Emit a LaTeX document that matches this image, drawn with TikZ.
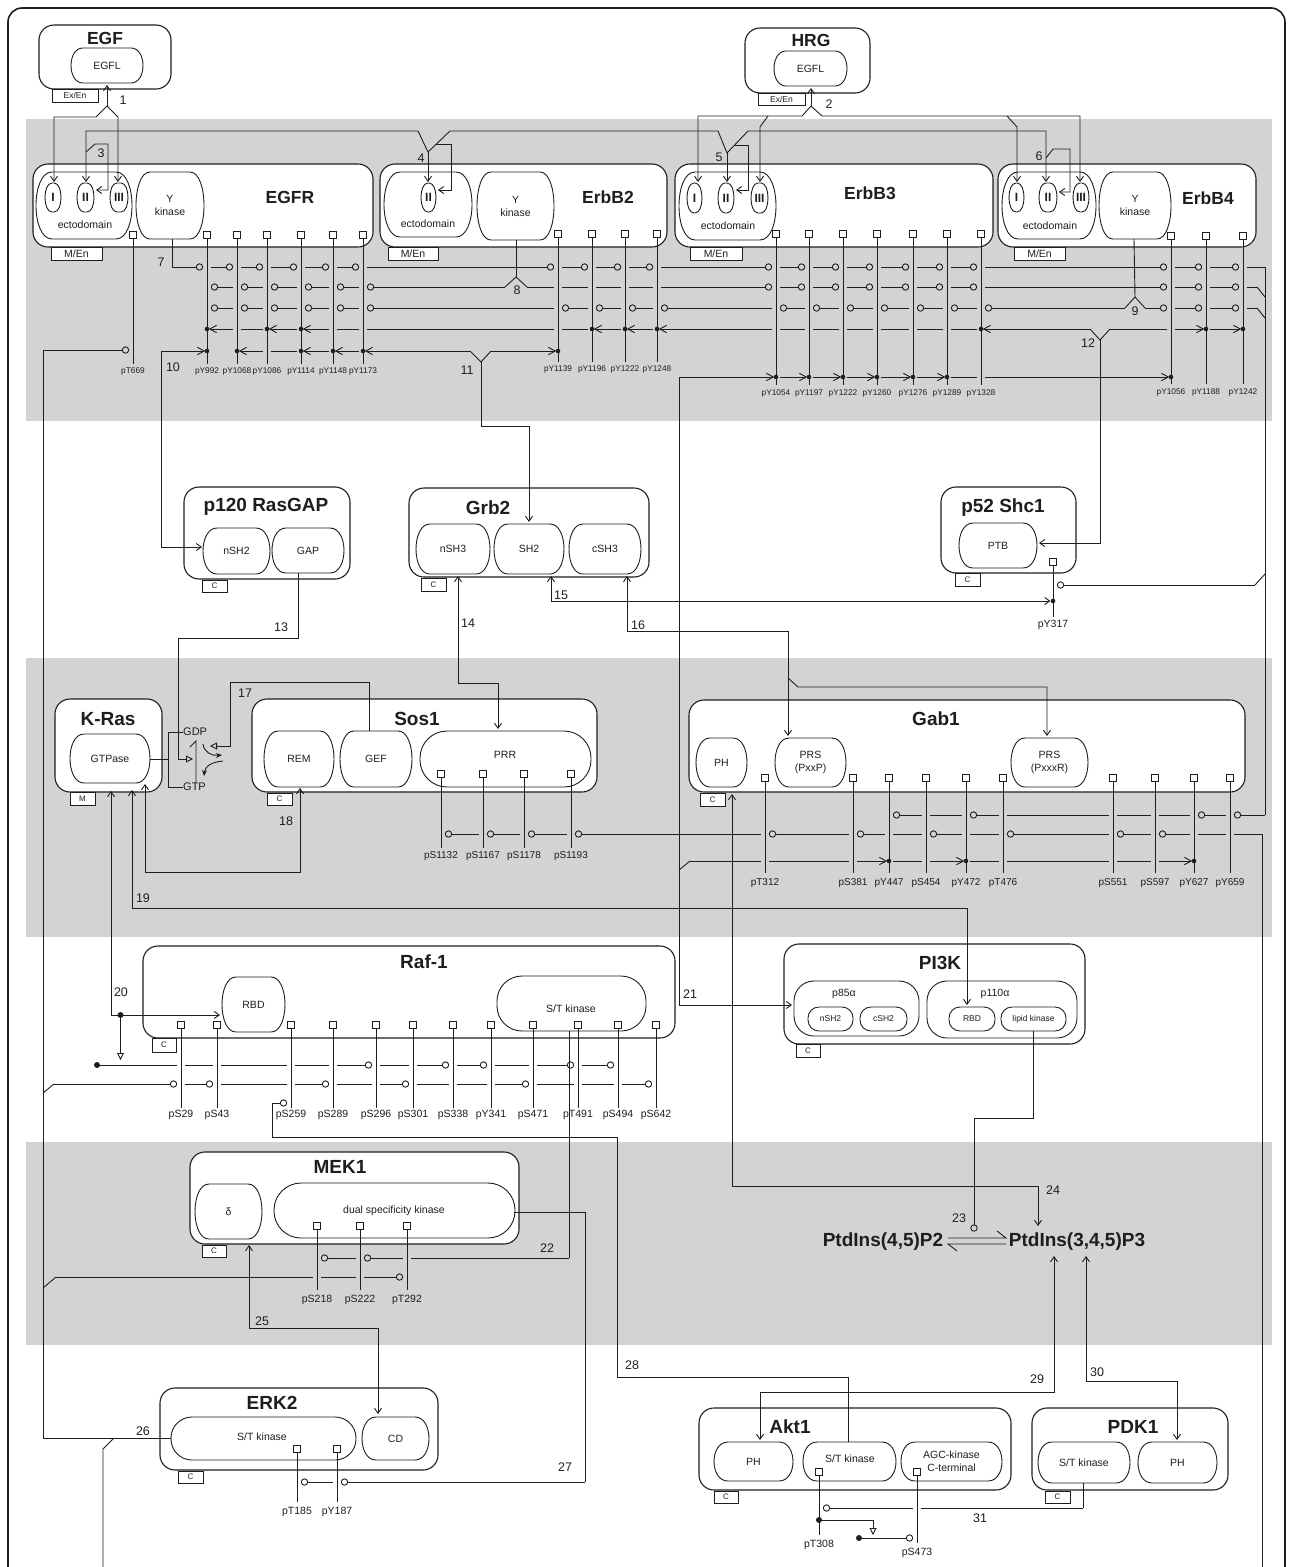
\documentclass[tikz,border=0pt]{standalone}
\usepackage{fontspec}
\setmainfont{Liberation Sans}
\usetikzlibrary{arrows.meta}
\definecolor{band}{RGB}{210,211,213}
\definecolor{ink}{RGB}{30,30,30}
\tikzset{
  ln/.style={line width=0.9pt},
  protbox/.style={draw, fill=white, line width=1.1pt, rounded corners=15pt, inner sep=0pt},
  dombox/.style={draw, fill=white, line width=0.9pt},
  domtxt/.style={inner sep=0pt, align=center, font=\fontsize{10.5}{13}\selectfont},
  tagb/.style={draw, fill=white, line width=0.8pt, inner sep=0pt, font=\fontsize{8}{9}\selectfont},
  ttl/.style={inner sep=0pt, font=\fontsize{17.5}{20}\selectfont\bfseries},
  ttlb/.style={inner sep=0pt, font=\fontsize{19}{22}\selectfont\bfseries},
  ptd/.style={inner sep=0pt, font=\fontsize{19}{22}\selectfont\bfseries},
  nlab/.style={inner sep=0pt, font=\fontsize{12.5}{14}\selectfont},
  sitelab/.style={font=\fontsize{8.3}{9}\selectfont},
  sq/.style={draw, fill=white, line width=0.8pt},
  tri/.style={-{Triangle[open,length=7pt,width=7pt]}},
}
\def\nonemac{none}
\def\labgap{3}
\newcommand\romfont{\fontsize{12}{13}\selectfont\bfseries}
\newcommand\smallf{\fontsize{8.5}{10}\selectfont}
% crossing handlers
\newcommand\zzLG[1]{\pgfmathsetmacro\segB{#1-4}}
\newcommand\zzLCR[1]{\pgfmathsetmacro\segB{#1-4}}
\newcommand\zzLDR[1]{\pgfmathsetmacro\segB{#1-4}\fill (#1,\RowY) circle (2.3);}
\newcommand\zzLCL[1]{\pgfmathsetmacro\segB{#1-10.7}\draw[ln] (#1-7.5,\RowY) circle (3.2);}
\newcommand\zzLDL[1]{\pgfmathsetmacro\segB{#1-2.6}\fill (#1,\RowY) circle (2.3);\draw[ln] (#1-9.6,\RowY-3.6) -- (#1-2.6,\RowY) -- (#1-9.6,\RowY+3.6);}
\newcommand\zzRG[1]{\pgfmathsetmacro\zztmp{#1+4}\xdef\segA{\zztmp}}
\newcommand\zzRCL[1]{\zzRG{#1}}
\newcommand\zzRDL[1]{\zzRG{#1}}
\newcommand\zzRCR[1]{\pgfmathsetmacro\zztmp{#1+10.7}\xdef\segA{\zztmp}\draw[ln] (#1+7.5,\RowY) circle (3.2);}
\newcommand\zzRDR[1]{\pgfmathsetmacro\zztmp{#1+2.6}\xdef\segA{\zztmp}\draw[ln] (#1+9.6,\RowY-3.6) -- (#1+2.6,\RowY) -- (#1+9.6,\RowY+3.6);}
\newcommand\hrow[4]{%
  \xdef\RowY{#1}\xdef\segA{#2}%
  \foreach \cx/\ct in {#3}{%
    \csname zzL\ct\endcsname{\cx}%
    \ifx\segA\nonemac\else\draw[ln] (\segA,\RowY) -- (\segB,\RowY);\fi
    \csname zzR\ct\endcsname{\cx}%
  }%
  \xdef\zzend{#4}%
  \ifx\zzend\nonemac\else\draw[ln] (\segA,\RowY) -- (\zzend,\RowY);\fi
}
\newcommand\site[4]{%
  \draw[ln] (#1,#2) -- (#1,#3);
  \draw[sq] (#1-3.2,#2-3.2) rectangle (#1+3.2,#2+3.2);
  \node[sitelab, anchor=north, inner sep=0pt] (site#1x#2) at (#1,#3+\labgap) {#4};}
\newcommand\prot[5]{\node[protbox, minimum width={#4-#2}, minimum height={#5-#3}] (#1) at ({(#2+#4)/2},{(#3+#5)/2}) {};}
\newcommand\tagbox[6]{\node[tagb, minimum width={#4-#2}, minimum height={#5-#3}] (#1) at ({(#2+#4)/2},{(#3+#5)/2}) {#6};}
\newcommand\dom[7][12]{%
  \draw[dombox] (#3+#1,#4) -- (#5-#1,#4) .. controls (#5+#1/3,#4) and (#5+#1/3,#6) .. (#5-#1,#6) -- (#3+#1,#6) .. controls (#3-#1/3,#6) and (#3-#1/3,#4) .. (#3+#1,#4) -- cycle;
  \node[domtxt, minimum width={#5-#3}, minimum height={#6-#4}] (#2) at ({(#3+#5)/2},{(#4+#6)/2}) {#7};}
\newcommand\sdom[7][20]{%
  \draw[dombox, rounded corners=#1pt] (#3,#4) rectangle (#5,#6);
  \node[domtxt, minimum width={#5-#3}, minimum height={#6-#4}] (#2) at ({(#3+#5)/2},{(#4+#6)/2}) {#7};}
\newcommand\MEn{\fontsize{10.5}{12}\selectfont M/En}
\newcommand\ExEn{\fontsize{8.5}{9}\selectfont Ex/En}

\begin{document}
\begin{tikzpicture}[x=1pt,y=-1pt,color=ink,>={Straight Barb[length=5pt,width=7pt]}]
\useasboundingbox (0,0) rectangle (1292,1567);
\clip (0,0) rectangle (1292,1567);
\fill[white] (0,0) rectangle (1292,1567);
\fill[band] (26,119) rectangle (1272,421);
\fill[band] (26,658) rectangle (1272,937);
\fill[band] (26,1142) rectangle (1272,1345);
\draw[line width=1.6pt, rounded corners=14pt] (8,8) rectangle (1285,1640);

% ================= ligands
\prot{EGF}{39}{25}{171}{89}
\node[ttl] (EGFt) at (105,38) {EGF};
\dom[12]{EGFLa}{71}{48}{143}{83}{EGFL}
\tagbox{EGFtag}{52}{89}{98}{102}{\ExEn}
\prot{HRG}{745}{28}{870}{93}
\node[ttl] (HRGt) at (811,40) {HRG};
\dom[12]{EGFLb}{774}{51}{847}{86}{EGFL}
\tagbox{HRGtag}{758}{93}{805}{105}{\ExEn}

% ================= receptors
\prot{EGFR}{33}{164}{373}{247}
\node[ttl] (EGFRt) at (290,197) {EGFR};
\dom[16]{EGFRecto}{36}{172}{132}{239}{}
\node[domtxt] (EGFRectot) at (85,225) {ectodomain};
\dom[7]{EGFRi}{45}{183}{61}{212}{\romfont I}
\dom[7]{EGFRii}{77}{183}{94}{212}{\romfont II}
\dom[7]{EGFRiii}{110}{183}{128}{212}{\romfont III}
\dom[14]{EGFRk}{136}{172}{204}{239}{Y\\kinase}
\tagbox{EGFRtag}{51}{247}{102}{260}{\MEn}

\prot{ErbBb}{380}{164}{667}{247}
\node[ttl] (ErbBbt) at (608,197) {ErbB2};
\dom[16]{ErbBbecto}{384}{172}{472}{237}{}
\node[domtxt] (ErbBbectot) at (428,224) {ectodomain};
\dom[7]{ErbBbii}{421}{183}{436}{212}{\romfont II}
\dom[14]{ErbBbk}{477}{172}{554}{240}{Y\\kinase}
\tagbox{ErbBbtag}{388}{247}{438}{260}{\MEn}

\prot{ErbBc}{675}{164}{993}{247}
\node[ttl] (ErbBct) at (870,193) {ErbB3};
\dom[16]{ErbBcecto}{679}{172}{776}{240}{}
\node[domtxt] (ErbBcectot) at (728,226) {ectodomain};
\dom[7]{ErbBci}{687}{183}{702}{213}{\romfont I}
\dom[7]{ErbBcii}{718}{183}{734}{213}{\romfont II}
\dom[7]{ErbBciii}{751}{183}{768}{213}{\romfont III}
\tagbox{ErbBctag}{690}{247}{742}{260}{\MEn}

\prot{ErbBd}{998}{164}{1256}{247}
\node[ttl] (ErbBdt) at (1208,198) {ErbB4};
\dom[16]{ErbBdecto}{1002}{172}{1096}{239}{}
\node[domtxt] (ErbBdectot) at (1050,226) {ectodomain};
\dom[7]{ErbBdi}{1009}{183}{1024}{212}{\romfont I}
\dom[7]{ErbBdii}{1039}{183}{1057}{212}{\romfont II}
\dom[7]{ErbBdiii}{1073}{183}{1089}{212}{\romfont III}
\dom[14]{ErbBdk}{1099}{172}{1171}{239}{Y\\kinase}
\tagbox{ErbBdtag}{1014}{247}{1065}{260}{\MEn}

% ================= adaptors
\prot{RasGAP}{184}{487}{350}{579}
\node[ttlb] (RasGAPt) at (266,507) {p120 RasGAP};
\dom[14]{nSHa}{203}{528}{270}{574}{nSH2}
\dom[14]{GAP}{272}{528}{344}{573}{GAP}
\tagbox{RasGAPtag}{202}{580}{227}{592}{C}

\prot{Grb}{409}{488}{649}{577}
\node[ttlb] (Grbt) at (488,508) {Grb2};
\dom[14]{nSHt}{416}{524}{490}{574}{nSH3}
\dom[14]{SHt}{494}{524}{564}{574}{SH2}
\dom[14]{cSHt}{569}{524}{641}{574}{cSH3}
\tagbox{Grbtag}{421}{578}{446}{591}{C}

\prot{Shc}{941}{487}{1076}{573}
\node[ttlb] (Shct) at (1003,508) {p52 Shc1};
\dom[14]{PTB}{959}{523}{1037}{568}{PTB}
\tagbox{Shctag}{955}{573}{980}{586}{C}

\prot{KRas}{55}{699}{162}{792}
\node[ttlb] (KRast) at (108,719) {K-Ras};
\dom[14]{GTPase}{70}{734}{150}{783}{GTPase}
\tagbox{KRastag}{70}{792}{95}{805}{M}

\prot{Sos}{252}{699}{597}{792}
\node[ttlb] (Sost) at (417,719) {Sos1};
\dom[14]{REM}{264}{731}{334}{787}{REM}
\dom[14]{GEF}{340}{731}{412}{787}{GEF}
\sdom[27]{PRR}{420}{731}{591}{787}{}
\node[domtxt] (PRRt) at (505,755) {PRR};
\tagbox{Sostag}{267}{793}{292}{805}{C}

\prot{Gab}{689}{700}{1245}{792}
\node[ttlb] (Gabt) at (936,719) {Gab1};
\dom[14]{PHa}{696}{738}{747}{787}{PH}
\dom[14]{PRSa}{775}{738}{846}{787}{PRS\\(PxxP)}
\dom[14]{PRSb}{1011}{738}{1088}{787}{PRS\\(PxxxR)}
\tagbox{Gabtag}{700}{793}{725}{806}{C}

\prot{Raf}{143}{946}{675}{1038}
\node[ttlb] (Raft) at (424,962) {Raf-1};
\dom[14]{RBDa}{222}{977}{285}{1032}{RBD}
\sdom[25]{RafK}{497}{976}{646}{1031}{}
\node[domtxt] (RafKt) at (571,1009) {S/T kinase};
\tagbox{Raftag}{152}{1038}{176}{1052}{C}

\prot{PIK}{784}{944}{1085}{1044}
\node[ttlb] (PIKt) at (940,963) {PI3K};
\sdom[20]{pEF}{794}{981}{919}{1036}{}
\node[domtxt] (pEFt) at (844,994) {p85α};
\sdom[11]{nSHb}{808}{1007}{853}{1031}{\smallf nSH2}
\sdom[11]{cSHb}{860}{1007}{907}{1031}{\smallf cSH2}
\sdom[20]{pOT}{927}{981}{1077}{1038}{}
\node[domtxt] (pOTt) at (995,994) {p110α};
\sdom[11]{RBDb}{949}{1007}{995}{1031}{\smallf RBD}
\sdom[11]{lipid}{1001}{1007}{1066}{1031}{\smallf lipid kinase}
\tagbox{PIKtag}{796}{1044}{820}{1057}{C}

\prot{MEK}{190}{1152}{519}{1244}
\node[ttlb] (MEKt) at (340,1167) {MEK1};
\dom[14]{delta}{195}{1184}{262}{1239}{δ}
\sdom[27]{dsk}{274}{1183}{515}{1238}{}
\node[domtxt] (dskt) at (394,1211) {dual specificity kinase};
\tagbox{MEKtag}{202}{1245}{226}{1257}{C}

\prot{ERK}{160}{1388}{438}{1470}
\node[ttlb] (ERKt) at (272,1403) {ERK2};
\sdom[21]{ERKk}{171}{1417}{356}{1460}{}
\node[domtxt] (ERKkt) at (262,1437) {S/T kinase};
\dom[14]{CD}{362}{1417}{429}{1460}{CD}
\tagbox{ERKtag}{178}{1471}{203}{1483}{C}

\prot{Akt}{699}{1408}{1011}{1490}
\node[ttlb] (Aktt) at (790,1427) {Akt1};
\dom[14]{PHb}{714}{1442}{793}{1481}{PH}
\dom[14]{AktK}{803}{1442}{896}{1481}{}
\node[domtxt] (AktKt) at (850,1459) {S/T kinase};
\dom[14]{AGC}{901}{1442}{1002}{1481}{AGC-kinase\\C-terminal}
\tagbox{Akttag}{714}{1491}{738}{1503}{C}

\prot{PDK}{1032}{1408}{1228}{1490}
\node[ttlb] (PDKt) at (1133,1427) {PDK1};
\dom[14]{PDKk}{1038}{1442}{1130}{1483}{S/T kinase}
\dom[14]{PHc}{1138}{1442}{1217}{1483}{PH}
\tagbox{PDKtag}{1045}{1491}{1070}{1503}{C}

\node[ptd] (PIPb) at (883,1242) {PtdIns(4,5)P2};
\node[ptd] (PIPc) at (1077,1242) {PtdIns(3,4,5)P3};

% ================= ligand binding / dimerisation
\draw[ln,->] (107,106) -- (107,85);
\draw[ln,->] (107,106) -- (96,117) -- (54,117) -- (54,182);
\draw[ln,->] (107,106) -- (118,117) -- (118,182);
\draw[ln,->] (811,106) -- (811,88);
\draw[ln,->] (811,106) -- (802,116) -- (698,116) -- (698,182);
\draw[ln,->] (768,116) -- (760,127) -- (760,182);
\draw[ln,->] (811,106) -- (822,116) -- (1080,116) -- (1080,182);
\draw[ln,->] (1007,116) -- (1017,127) -- (1017,182);
\draw[ln,<->] (86,182) -- (86,131) -- (418,131) -- (428,152) -- (450,131) -- (718,131) -- (727,153) -- (748,131) -- (1046,131) -- (1046,182);
\draw[ln,->] (428,152) -- (428,182);
\draw[ln,->] (727,153) -- (727,182);
\draw[ln,->] (86,152) -- (95,144) -- (108,144) -- (108,190) -- (96,190);
\draw[ln,->] (436,144) -- (451,144) -- (451,190) -- (438,190);
\draw[ln,->] (735,145) -- (748,145) -- (748,190) -- (736,190);
\draw[ln,->] (1046,158) -- (1053,149) -- (1070,149) -- (1070,192) -- (1059,192);

% ================= receptor rows
\draw[ln] (172,239) -- (172,267);
\hrow{267}{172}{207/CL,237/CL,267/CL,301/CL,333/CL,363/CL,558/CL,592/CL,625/CL,657/CL,776/CL,809/CL,843/CL,877/CL,913/CL,947/CL,981/CL,1171/CL,1206/CL,1243/CL}{1265}
\draw[ln] (1265,267) -- (1265,815);
\hrow{287}{none}{207/CR,237/CR,267/CR,301/CR,333/CR,363/CR}{505}
\draw[ln] (505,287) -- (516,277) -- (527,287);
\draw[ln] (516,240) -- (516,277);
\hrow{287}{527}{558/G,592/G,625/G,657/G,776/CL,809/CL,843/CL,877/CL,913/CL,947/CL,981/CL,1171/CL,1206/CL,1243/CL}{1257}
\draw[ln] (1257,287) -- (1265,297);
\hrow{308}{none}{207/CR,237/CR,267/CR,301/CR,333/CR,363/CR,558/CR,592/CR,625/CR,657/CR,776/CR,809/CR,843/CR,877/CR,913/CR,947/CR,981/CR}{1125}
\draw[ln] (1125,308) -- (1135,297) -- (1145,308);
\draw[ln] (1134,239) -- (1135,297);
\hrow{308}{1145}{1171/CL,1206/CL,1243/CL}{1257}
\draw[ln] (1257,308) -- (1265,318);
\hrow{329}{none}{207/DR,237/G,267/DR,301/DR,333/G,363/G,558/G,592/DR,625/DR,657/DR,776/G,809/G,843/G,877/G,913/G,947/G,981/DR}{1090}
\draw[ln] (1090,329) -- (1100,340) -- (1110,329);
\hrow{329}{1110}{1171/G,1206/DL,1243/DL}{none}
\hrow{351}{161}{207/DL}{none}
\hrow{351}{none}{237/DR,267/G,301/DR,333/DR,363/DR}{470}
\draw[ln] (470,351) -- (481,362) -- (491,351);
\hrow{351}{491}{558/DL}{none}
\hrow{377}{679}{776/DL,809/DL,843/DL,877/DL,913/DL,947/DL,981/G,1171/DL}{none}
\hrow{350}{43}{133/CL}{none}

% ================= adaptor connectors
\draw[ln,->] (161,351) -- (161,547) -- (202,547);
\draw[ln,->] (481,362) -- (481,426) -- (529,426) -- (529,522);
\draw[ln,->] (1100,340) -- (1100,543) -- (1039,543);
\draw[ln,tri] (298,573) -- (298,638) -- (178,638) -- (178,759) -- (193,759);
\draw[ln,<->] (458,576) -- (458,683) -- (498,683) -- (498,729);
\draw[ln,<->] (551,576) -- (551,601) -- (1050.4,601);
\fill (1053,601) circle (2.3);
\draw[ln,<->] (627,576) -- (627,631) -- (788,631) -- (788,736);
\draw[ln,->] (788,678) -- (798,687) -- (1047,687) -- (1047,736);
\hrow{585}{none}{1053/CR}{1255}
\draw[ln] (1255,585) -- (1265,574);

% ================= Ras cycle
\draw[ln] (150,759) -- (168,759);
\draw[ln] (183,732) -- (168,732) -- (168,787) -- (183,787);
\node[inner sep=0pt, anchor=west, font=\fontsize{11}{12}\selectfont] (GDP) at (183,732) {GDP};
\node[inner sep=0pt, anchor=west, font=\fontsize{11}{12}\selectfont] (GTP) at (183,787) {GTP};
\draw[ln] (190,747) -- (196,741) -- (196,783);
\draw[ln,-{Stealth[length=6pt,width=5pt]}] (203,744) .. controls (204,752) and (211,756) .. (222,755);
\draw[ln,-{Stealth[length=6pt,width=5pt]}] (223,761) .. controls (212,762) and (205,766) .. (204,776);
\draw[ln,tri] (369,731) -- (369,682) -- (230,682) -- (230,746) -- (210,746);
\draw[ln,<->] (145,784) -- (145,872) -- (300,872) -- (300,788);
\draw[ln,<->] (132,790) -- (132,908) -- (967,908) -- (967,1005);
\draw[ln,<->] (111,791) -- (111,1015) -- (220,1015);
\fill (120.5,1015) circle (3);
\draw[ln,tri] (120.5,1015) -- (120.5,1060);

% ================= Gab1 rows
\hrow{815}{none}{889/CR,926/G,966/CR,1003/G,1113/G,1155/G,1194/CR,1230/CR}{1265}
\hrow{834}{none}{441/CR,483/CR,524/CR,571/CR,765/CR,853/CR,889/G,926/CR,966/G,1003/CR,1113/CR,1155/CR,1194/G,1230/G}{1262}
\draw[ln] (1262,834) -- (1262,1580);
\hrow{861}{690}{765/G,853/G,889/DL,926/G,966/DL,1003/G,1113/G,1155/G,1194/DL}{none}
\draw[ln,->] (679,377) -- (679,1005) -- (792,1005);
\draw[ln] (679,870) -- (690,861);
\draw[ln,<->] (732,794) -- (732,1186) -- (1038,1186) -- (1038,1226);

% ================= Raf rows
\fill (97,1065) circle (3);
\hrow{1065}{97}{181/G,217/G,291/G,333/G,376/CL,413/G,453/CL,491/CL,533/G,578/CL,618/CL}{none}
\hrow{1084}{54}{181/CL,217/CL,291/G,333/CL,376/G,413/CL,453/G,491/G,533/CL,578/G,618/G,656/CL}{none}
\draw[ln] (43,1093) -- (54,1084);
\draw[ln] (848,1442) -- (848,1377) -- (617,1377) -- (617,1137) -- (272,1137) -- (272,1103) -- (280.3,1103);
\draw[ln] (283.5,1103) circle (3.2);
\draw[ln] (569,1031) -- (569,1258);

% ================= PI3K / lipids
\draw[ln] (1033,1031) -- (1033,1118) -- (974,1118) -- (974,1224.8);
\draw[ln] (974,1228) circle (3.2);
\draw[ln] (948,1238) -- (1006,1238) -- (997,1231);
\draw[ln] (1006,1244) -- (948,1244) -- (957,1251);
\draw[ln,<->] (1054,1256) -- (1054,1392) -- (760,1392) -- (760,1440);
\draw[ln,<->] (1086,1256) -- (1086,1381) -- (1177,1381) -- (1177,1440);

% ================= MEK / ERK
\hrow{1258}{none}{317/CR,360/CR,407/G}{569}
\hrow{1277}{56}{317/G,360/G,407/CL}{none}
\draw[ln] (43,1288) -- (56,1277);
\draw[ln,<->] (249,1245) -- (249,1328) -- (378,1328) -- (378,1414);
\draw[ln] (171,1438) -- (43,1438) -- (43,350);
\draw[ln] (114,1438) -- (103,1449) -- (103,1580);
\draw[ln] (514,1212) -- (585,1212) -- (585,1482);
\hrow{1482}{none}{297/CR,337/CR}{585}

% ================= Akt / PDK1
\draw[ln] (1083,1483) -- (1083,1508);
\hrow{1508}{none}{819/CR,917/G}{1083}
\fill (819,1520) circle (3);
\draw[ln,tri] (819,1520) -- (873,1520) -- (873,1535);
\fill (859,1538) circle (3);
\hrow{1538}{859}{917/CL}{none}

% ================= sites
\def\labgap{3.5}
\site{133}{235}{364}{pT669}
\site{207}{235}{364}{pY992}
\site{237}{235}{364}{pY1068}
\site{267}{235}{364}{pY1086}
\site{301}{235}{364}{pY1114}
\site{333}{235}{364}{pY1148}
\site{363}{235}{364}{pY1173}
\site{558}{234}{362}{pY1139}
\site{592}{234}{362}{pY1196}
\site{625}{234}{362}{pY1222}
\site{657}{234}{362}{pY1248}
\def\labgap{4}
\site{776}{234}{385}{pY1054}
\site{809}{234}{385}{pY1197}
\site{843}{234}{385}{pY1222}
\site{877}{234}{385}{pY1260}
\site{913}{234}{385}{pY1276}
\site{947}{234}{385}{pY1289}
\site{981}{234}{385}{pY1328}
\site{1171}{236}{384}{pY1056}
\site{1206}{236}{384}{pY1188}
\site{1243}{236}{384}{pY1242}
\tikzset{sitelab/.style={font=\fontsize{10.5}{12}\selectfont}}
\def\labgap{3}
\site{1053}{562}{617}{pY317}
\tikzset{sitelab/.style={font=\fontsize{10}{12}\selectfont}}
\site{441}{774}{848}{pS1132}
\site{483}{774}{848}{pS1167}
\site{524}{774}{848}{pS1178}
\site{571}{774}{848}{pS1193}
\def\labgap{5}
\site{765}{778}{873}{pT312}
\site{853}{778}{873}{pS381}
\site{889}{778}{873}{pY447}
\site{926}{778}{873}{pS454}
\site{966}{778}{873}{pY472}
\site{1003}{778}{873}{pT476}
\site{1113}{778}{873}{pS551}
\site{1155}{778}{873}{pS597}
\site{1194}{778}{873}{pY627}
\site{1230}{778}{873}{pY659}
\tikzset{sitelab/.style={font=\fontsize{10.5}{12}\selectfont}}
\def\labgap{1.5}
\site{181}{1025}{1108}{pS29}
\site{217}{1025}{1108}{pS43}
\site{291}{1025}{1108}{pS259}
\site{333}{1025}{1108}{pS289}
\site{376}{1025}{1108}{pS296}
\site{413}{1025}{1108}{pS301}
\site{453}{1025}{1108}{pS338}
\site{491}{1025}{1108}{pY341}
\site{533}{1025}{1108}{pS471}
\site{578}{1025}{1108}{pT491}
\site{618}{1025}{1108}{pS494}
\site{656}{1025}{1108}{pS642}
\def\labgap{4.5}
\site{317}{1226}{1290}{pS218}
\site{360}{1226}{1290}{pS222}
\site{407}{1226}{1290}{pT292}
\def\labgap{5}
\site{297}{1449}{1502}{pT185}
\site{337}{1449}{1502}{pY187}
\def\labgap{4.5}
\site{819}{1472}{1535}{pT308}
\site{917}{1472}{1543}{pS473}

% ================= reaction numbers
\node[nlab] (n1) at (123,100) {1};
\node[nlab] (n2) at (829,104) {2};
\node[nlab] (n3) at (101,153) {3};
\node[nlab] (n4) at (421,158) {4};
\node[nlab] (n5) at (719,157) {5};
\node[nlab] (n6) at (1039,156) {6};
\node[nlab] (n7) at (161,262) {7};
\node[nlab] (n8) at (517,290) {8};
\node[nlab] (n9) at (1135,311) {9};
\node[nlab] (n10) at (173,367) {10};
\node[nlab] (n11) at (467,370) {11};
\node[nlab] (n12) at (1088,343) {12};
\node[nlab] (n13) at (281,627) {13};
\node[nlab] (n14) at (468,623) {14};
\node[nlab] (n15) at (561,595) {15};
\node[nlab] (n16) at (638,625) {16};
\node[nlab] (n17) at (245,693) {17};
\node[nlab] (n18) at (286,821) {18};
\node[nlab] (n19) at (143,898) {19};
\node[nlab] (n20) at (121,992) {20};
\node[nlab] (n21) at (690,994) {21};
\node[nlab] (n22) at (547,1248) {22};
\node[nlab] (n23) at (959,1218) {23};
\node[nlab] (n24) at (1053,1190) {24};
\node[nlab] (n25) at (262,1321) {25};
\node[nlab] (n26) at (143,1431) {26};
\node[nlab] (n27) at (565,1467) {27};
\node[nlab] (n28) at (632,1365) {28};
\node[nlab] (n29) at (1037,1379) {29};
\node[nlab] (n30) at (1097,1372) {30};
\node[nlab] (n31) at (980,1518) {31};
\end{tikzpicture}
\end{document}
